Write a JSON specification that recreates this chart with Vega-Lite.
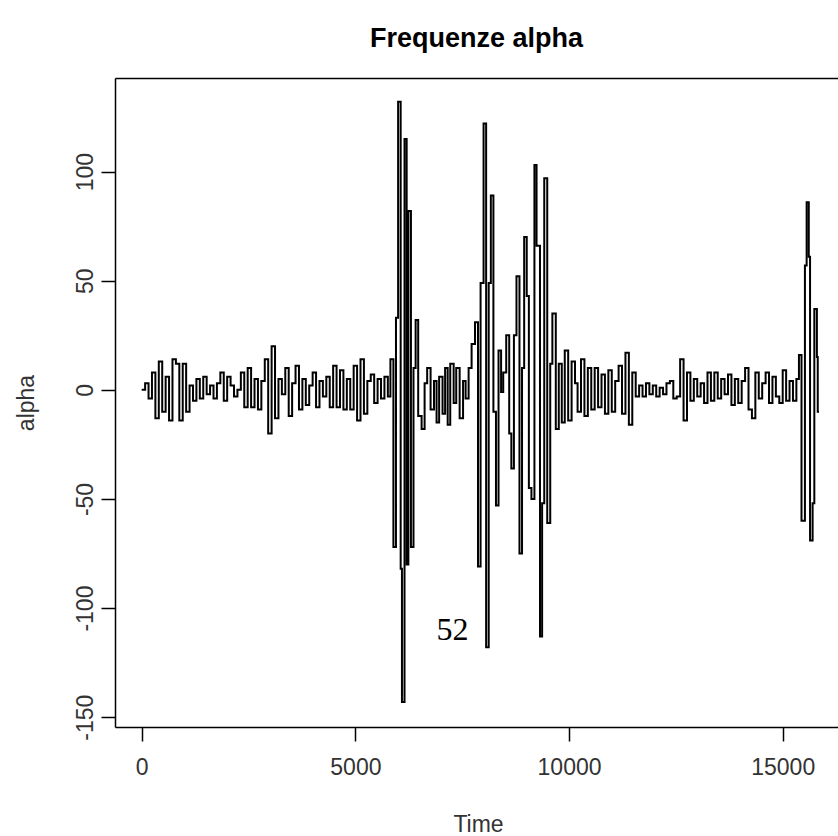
{
  "$schema": "https://vega.github.io/schema/vega-lite/v6.json",
  "width": 723,
  "height": 649,
  "autosize": {"type": "none"},
  "padding": {"left": 115, "top": 78, "right": 0, "bottom": 109},
  "background": "white",
  "config": {"view": {"stroke": null}},
  "title": {"text": "Frequenze alpha", "fontSize": 27, "fontWeight": "bold", "font": "Liberation Sans", "anchor": "middle", "frame": "group", "baseline": "alphabetic", "offset": 4, "color": "#000"},
  "resolve": {"axis": {"x": "independent", "y": "independent"}},
  "layer": [
    {
      "data": {"values": [
        {"t":0,"v":0},{"t":80,"v":3},{"t":160,"v":-4},{"t":240,"v":8},{"t":320,"v":-13},{"t":400,"v":13},{"t":480,"v":-10},{"t":560,"v":6},{"t":640,"v":-14},{"t":720,"v":14},{"t":800,"v":12},{"t":880,"v":-14},{"t":960,"v":12},{"t":1040,"v":-10},{"t":1120,"v":2},{"t":1200,"v":-5},{"t":1280,"v":5},{"t":1360,"v":-4},{"t":1440,"v":6},{"t":1520,"v":-2},{"t":1600,"v":2},{"t":1680,"v":-4},{"t":1760,"v":3},{"t":1840,"v":8},{"t":1920,"v":-5},{"t":2000,"v":6},{"t":2080,"v":2},{"t":2160,"v":-3},{"t":2240,"v":0},{"t":2320,"v":8},{"t":2400,"v":-8},{"t":2480,"v":10},{"t":2560,"v":-8},{"t":2640,"v":5},
        {"t":2720,"v":-9},{"t":2800,"v":4},{"t":2880,"v":14},{"t":2960,"v":-20},{"t":3040,"v":20},{"t":3120,"v":-13},{"t":3200,"v":5},{"t":3280,"v":-2},{"t":3360,"v":10},{"t":3440,"v":-12},{"t":3520,"v":3},{"t":3600,"v":11},{"t":3680,"v":-9},{"t":3760,"v":5},{"t":3840,"v":-7},{"t":3920,"v":2},{"t":4000,"v":8},{"t":4080,"v":-8},{"t":4160,"v":4},{"t":4240,"v":-3},{"t":4320,"v":6},{"t":4400,"v":-8},{"t":4480,"v":11},{"t":4560,"v":-8},{"t":4640,"v":9},{"t":4720,"v":-9},{"t":4800,"v":5},{"t":4880,"v":-9},{"t":4960,"v":11},{"t":5040,"v":-14},{"t":5120,"v":14},{"t":5200,"v":-11},{"t":5280,"v":4},{"t":5360,"v":7},{"t":5440,"v":-6},{"t":5520,"v":5},
        {"t":5600,"v":-4},{"t":5680,"v":6},{"t":5760,"v":-3},{"t":5820,"v":14},{"t":5890,"v":-72},{"t":5950,"v":33},{"t":6000,"v":132},{"t":6060,"v":-82},{"t":6090,"v":-143},{"t":6150,"v":115},{"t":6200,"v":-80},{"t":6240,"v":82},{"t":6300,"v":-72},{"t":6360,"v":10},{"t":6410,"v":32},{"t":6470,"v":-12},
        {"t":6550,"v":-18},{"t":6620,"v":3},{"t":6680,"v":10},{"t":6760,"v":-9},{"t":6840,"v":4},{"t":6900,"v":-15},{"t":6960,"v":6},{"t":7040,"v":-11},{"t":7100,"v":10},{"t":7160,"v":-16},{"t":7220,"v":12},{"t":7300,"v":-6},{"t":7360,"v":10},{"t":7440,"v":-13},{"t":7520,"v":4},{"t":7580,"v":-4},{"t":7650,"v":10},{"t":7720,"v":21},
        {"t":7800,"v":31},{"t":7870,"v":-81},{"t":7930,"v":49},{"t":8000,"v":122},{"t":8060,"v":-118},{"t":8120,"v":49},{"t":8170,"v":89},{"t":8230,"v":-10},{"t":8290,"v":-53},{"t":8350,"v":18},{"t":8410,"v":-1},{"t":8460,"v":8},{"t":8530,"v":25},{"t":8600,"v":-20},{"t":8650,"v":-36},{"t":8710,"v":25},{"t":8770,"v":52},{"t":8840,"v":-75},{"t":8900,"v":10},{"t":8950,"v":70},{"t":9010,"v":43},{"t":9060,"v":-45},{"t":9120,"v":-50},{"t":9190,"v":103},{"t":9240,"v":66},{"t":9320,"v":-113},{"t":9370,"v":-52},{"t":9420,"v":97},{"t":9490,"v":-61},{"t":9560,"v":12},{"t":9610,"v":35},{"t":9690,"v":-18},
        {"t":9760,"v":12},{"t":9830,"v":-15},{"t":9900,"v":18},{"t":9980,"v":-14},{"t":10060,"v":13},{"t":10140,"v":3},{"t":10200,"v":-10},{"t":10280,"v":14},{"t":10360,"v":-12},{"t":10440,"v":10},{"t":10520,"v":-9},{"t":10600,"v":10},{"t":10680,"v":-8},{"t":10760,"v":7},{"t":10840,"v":-11},{"t":10920,"v":9},{"t":11000,"v":-10},{"t":11080,"v":4},{"t":11160,"v":11},{"t":11240,"v":-11},{"t":11320,"v":17},{"t":11400,"v":-16},{"t":11480,"v":8},{"t":11560,"v":-3},{"t":11640,"v":2},{"t":11720,"v":-3},{"t":11800,"v":3},{"t":11880,"v":-2},{"t":11960,"v":2},{"t":12040,"v":-3},{"t":12120,"v":1},{"t":12200,"v":-2},{"t":12280,"v":3},{"t":12360,"v":4},{"t":12440,"v":-4},{"t":12520,"v":-3},{"t":12600,"v":14},{"t":12680,"v":-14},{"t":12760,"v":8},{"t":12840,"v":-5},{"t":12920,"v":5},{"t":13000,"v":-3},{"t":13080,"v":3},{"t":13160,"v":-6},{"t":13240,"v":8},{"t":13320,"v":-5},{"t":13400,"v":8},{"t":13480,"v":-4},{"t":13560,"v":5},{"t":13640,"v":-2},{"t":13720,"v":7},{"t":13800,"v":-7},{"t":13880,"v":5},{"t":13960,"v":-6},{"t":14040,"v":4},{"t":14120,"v":10},{"t":14200,"v":-9},{"t":14280,"v":-13},{"t":14360,"v":8},{"t":14440,"v":-4},{"t":14520,"v":3},{"t":14600,"v":8},{"t":14680,"v":-6},{"t":14760,"v":6},{"t":14840,"v":-3},{"t":14920,"v":-6},{"t":15000,"v":9},{"t":15080,"v":-5},{"t":15160,"v":4},{"t":15240,"v":-5},{"t":15320,"v":5},
        {"t":15380,"v":16},{"t":15440,"v":-60},{"t":15520,"v":57},{"t":15560,"v":86},{"t":15610,"v":61},{"t":15640,"v":-69},{"t":15700,"v":-52},{"t":15740,"v":37},{"t":15800,"v":15},{"t":15820,"v":-10},{"t":15850,"v":-10}
      ]},
      "mark": {"type": "line", "interpolate": "step-after", "color": "#000", "strokeWidth": 2},
      "encoding": {
        "x": {"field": "t", "type": "quantitative", "scale": {"domain": [-625, 16294], "nice": false, "zero": false},
          "axis": {"orient": "bottom", "values": [0, 5000, 10000, 15000], "labelExpr": "replace(format(datum.value, 'd'), '\u2212', '-')", "grid": false, "domainColor": "#000", "domainWidth": 1.5, "tickColor": "#000", "tickWidth": 1.5, "tickSize": 14, "labelFont": "Liberation Sans", "labelFontSize": 23, "labelColor": "#333", "labelPadding": 15, "labelFlush": false, "labelOverlap": false, "title": "Time", "titleFont": "Liberation Sans", "titleFontSize": 23, "titleFontWeight": "normal", "titleColor": "#333", "titleBaseline": "alphabetic", "titleY": 104, "titleX": 363, "titleAlign": "center"}},
        "y": {"field": "v", "type": "quantitative", "scale": {"domain": [-154.5, 142.9], "nice": false, "zero": false},
          "axis": {"orient": "left", "values": [-150, -100, -50, 0, 50, 100], "labelExpr": "replace(format(datum.value, 'd'), '\u2212', '-')", "grid": false, "domainColor": "#000", "domainWidth": 1.5, "tickColor": "#000", "tickWidth": 1.5, "tickSize": 14, "labelFont": "Liberation Sans", "labelFontSize": 23, "labelColor": "#333", "labelAngle": -90, "labelAlign": "center", "labelBaseline": "alphabetic", "labelPadding": 9, "labelFlush": false, "labelOverlap": false, "title": "alpha", "titleFont": "Liberation Sans", "titleFontSize": 23, "titleFontWeight": "normal", "titleColor": "#333", "titleAngle": -90, "titleAlign": "center", "titleBaseline": "alphabetic", "titleX": -82, "titleY": 324.5}}
      }
    },
    {
      "data": {"values": [{"t": 7273, "v": -114.6, "label": "52"}]},
      "mark": {"type": "text", "font": "Liberation Serif", "fontSize": 32, "color": "#000", "align": "center", "baseline": "alphabetic"},
      "encoding": {
        "x": {"field": "t", "type": "quantitative", "axis": {"orient": "top", "labels": false, "ticks": false, "grid": false, "domain": true, "domainColor": "#000", "domainWidth": 1.5, "title": null}},
        "y": {"field": "v", "type": "quantitative", "axis": null},
        "text": {"field": "label"}
      }
    }
  ]
}
